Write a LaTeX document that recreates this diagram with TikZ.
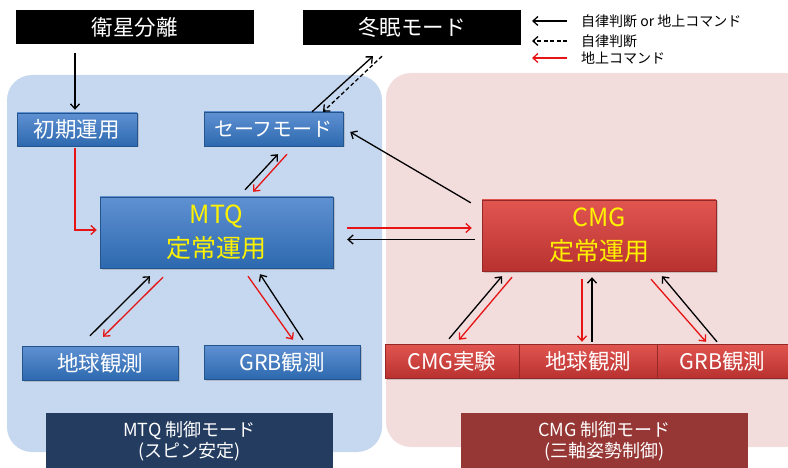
\documentclass[tikz,border=0pt]{standalone}
\usepackage{fontspec}
\setmainfont{Noto Sans CJK JP}
\usetikzlibrary{calc,shadows,arrows.meta}
\definecolor{bluebg}{RGB}{198,216,240}
\definecolor{redbg}{RGB}{242,220,220}
\definecolor{bluetop}{RGB}{95,145,210}
\definecolor{bluebot}{RGB}{45,105,175}
\definecolor{redtop}{RGB}{225,85,80}
\definecolor{redbot}{RGB}{185,50,48}
\definecolor{mtqdark}{RGB}{35,60,95}
\definecolor{cmgdark}{RGB}{150,55,53}
\definecolor{arrowred}{RGB}{230,20,20}
\begin{document}
\begin{tikzpicture}[x=1pt,y=-1pt,
  >={Straight Barb[length=5pt,width=9pt]},
  blackbox/.style={fill=black,inner sep=0pt,text=white,font=\fontsize{21.5}{25}\selectfont},
  bluebox/.style={top color=bluetop,bottom color=bluebot,draw=bluebot!80!black,inner sep=0pt,text=white,
    font=\fontsize{21.5}{25}\selectfont,drop shadow={shadow xshift=1.5pt,shadow yshift=-1.5pt,opacity=0.35}},
  redbox/.style={top color=redtop,bottom color=redbot,draw=redbot!80!black,inner sep=0pt,text=white,
    font=\fontsize{21.5}{25}\selectfont,drop shadow={shadow xshift=1.5pt,shadow yshift=-1.5pt,opacity=0.35}},
  mainlbl/.style={align=center,text=yellow,font=\fontsize{25}{34}\selectfont},
  modebox/.style={inner sep=0pt,text=white,align=center,font=\fontsize{18}{21}\selectfont},
  blk/.style={->,line width=1.3pt,black},
  gnd/.style={->,line width=1.3pt,arrowred},
  auto/.style={->,line width=1.3pt,black,dash pattern=on 4pt off 2.5pt},
  lgnd/.style={anchor=west,inner sep=0pt,font=\fontsize{14}{16}\selectfont}]
\useasboundingbox (0,0) rectangle (788,468);
\clip (0,0) rectangle (788,468);
\fill[bluebg,rounded corners=25pt] (7,75) rectangle (382,452);
\fill[redbg,rounded corners=25pt] (386,73) rectangle (810,447);
\node[blackbox,minimum width=238pt,minimum height=34pt] (sep) at (134.5,27.5) {衛星分離};
\node[blackbox,minimum width=218pt,minimum height=35pt] (hib) at (412,27.5) {冬眠モード};
\node[bluebox,minimum width=120pt,minimum height=33pt] (init) at (77,129.5) {初期運用};
\node[bluebox,minimum width=139pt,minimum height=34pt,font=\fontsize{20}{24}\selectfont] (safe) at (273.5,129) {セーフモード};
\node[bluebox,minimum width=233pt,minimum height=71pt,mainlbl] (mtq) at (216.5,232.5) {MTQ\\定常運用};
\node[redbox,minimum width=234pt,minimum height=71pt,mainlbl] (cmg) at (599,235.5) {CMG\\定常運用};
\node[bluebox,minimum width=156pt,minimum height=34pt] (eo1) at (100,363) {地球観測};
\node[bluebox,minimum width=156pt,minimum height=34pt] (grb1) at (282,362) {GRB観測};
\node[redbox,minimum width=134pt,minimum height=34pt] (exp) at (452,361) {CMG実験};
\node[redbox,minimum width=138pt,minimum height=34pt] (eo2) at (588,361) {地球観測};
\node[redbox,minimum width=131pt,minimum height=34pt] (grb2) at (722.5,361) {GRB観測};
\node[modebox,fill=mtqdark,minimum width=287pt,minimum height=57pt] (mtqmode) at (189.5,441.5) {MTQ 制御モード\\(スピン安定)};
\node[modebox,fill=cmgdark,minimum width=287pt,minimum height=57pt] (cmgmode) at (604.5,441.5) {CMG 制御モード\\(三軸姿勢制御)};
\node[lgnd] (lg1) at (581,21) {自律判断 or 地上コマンド};
\node[lgnd] (lg2) at (581,41) {自律判断};
\node[lgnd] (lg3) at (581,58) {地上コマンド};
\draw[blk] ($(lg1.west)+(-14,0)$) -- ($(lg1.west)+(-49,0)$);
\draw[auto] ($(lg2.west)+(-14,0)$) -- ($(lg2.west)+(-49,0)$);
\draw[gnd] ($(lg3.west)+(-14,0)$) -- ($(lg3.west)+(-49,0)$);
\draw[blk] ($(sep.south)+(-59.5,8.5)$) -- ($(init.north)+(-2,-3)$);
\draw[gnd] ($(init.south)+(-2,2)$) |- ($(mtq.west)+(-3,-2.5)$);
\draw[blk] ($(safe.north)+(38.5,0)$) -- ($(hib.south)+(-39,11)$);
\draw[auto] ($(hib.south)+(-30,11)$) -- ($(safe.north)+(49.5,0)$);
\draw[blk] ($(mtq.north)+(28.5,-7)$) -- ($(safe.south)+(4.5,8)$);
\draw[gnd] ($(safe.south)+(13.5,8)$) -- ($(mtq.north)+(36.5,-5)$);
\draw[blk] ($(cmg.north west)+(-11,3)$) -- ($(safe.east)+(7,3)$);
\draw[gnd] ($(mtq.east)+(14,-4.5)$) -- ($(cmg.west)+(-10,-7.5)$);
\draw[blk] ($(cmg.west)+(-7,4)$) -- ($(mtq.east)+(14,7)$);
\draw[blk] ($(eo1.north)+(-10,-10)$) -- ($(mtq.south)+(-66.5,8)$);
\draw[gnd] ($(mtq.south)+(-53.5,9)$) -- ($(eo1.north)+(3,-9)$);
\draw[gnd] ($(mtq.south)+(31.5,8)$) -- ($(grb1.north)+(11,-5)$);
\draw[blk] ($(grb1.north)+(21,-5)$) -- ($(mtq.south)+(43.5,6)$);
\draw[blk] ($(exp.north)+(-3,-5)$) -- ($(cmg.south)+(-97,5)$);
\draw[gnd] ($(cmg.south)+(-87,6)$) -- ($(exp.north)+(7,-4)$);
\draw[gnd] ($(cmg.south)+(-17,8)$) -- ($(eo2.north)+(-6,-2)$);
\draw[blk] ($(eo2.north)+(4,-2)$) -- ($(cmg.south)+(-7,6)$);
\draw[gnd] ($(cmg.south)+(52,8)$) -- ($(grb2.north)+(-16.5,-2)$);
\draw[blk] ($(grb2.north)+(-5.5,-2)$) -- ($(cmg.south)+(63,5)$);
\end{tikzpicture}
\end{document}
